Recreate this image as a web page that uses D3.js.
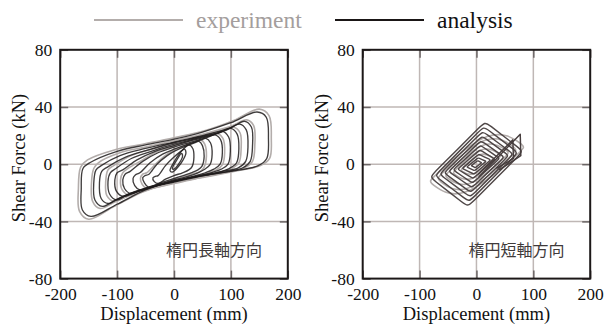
<!DOCTYPE html>
<html>
<head>
<meta charset="utf-8">
<script src="https://cdn.jsdelivr.net/npm/d3@7"></script>
<style>
  html, body { margin: 0; padding: 0; background: #ffffff; }
  svg { display: block; }
</style>
</head>
<body>
<svg id="chart" width="604" height="327"></svg>
<script>
// ---- axis ticks and labels ----
const xTicks = [-200, -100, 0, 100, 200];
const yTicks = [-80, -40, 0, 40, 80];
const xTitle = "Displacement (mm)";
const yTitle = "Shear Force (kN)";
const panelTitles = ["楕円長軸方向", "楕円短軸方向"];
const legendNames = ["experiment", "analysis"];

// ---- long-axis direction: hysteresis loops, [displacement mm, force kN] ----
const longAnalysis = [
  [[-148,1],[-100,9],[-50,13.5],[0,17.5],[50,22.5],[100,29],[146,36.5],[162,33],[166,18],[163,4],[148,-1],[100,-5],[50,-8],[0,-11.5],[-50,-18],[-100,-28],[-146,-36.5],[-161,-32],[-163,-17],[-160,-3]],
  [[-128,-1],[-95,6],[-50,11],[0,15.5],[50,20],[100,25.5],[124,30],[136,26],[138,13],[134,2],[121,-2.5],[95,-5],[50,-8],[0,-12],[-50,-17],[-100,-24.5],[-126,-29.5],[-139,-25],[-141,-13],[-137,-4]],
  [[-117,-2],[-85,5],[-45,10],[0,15],[45,19],[90,23.5],[115,28],[127,24],[130,12],[126,2],[113,-2.5],[85,-5],[45,-8],[0,-12],[-45,-16],[-90,-22.5],[-116,-27.5],[-128,-24],[-131,-13],[-127,-5]],
  [[-102,-3],[-75,4],[-40,9],[0,14],[40,18],[80,22],[100,25],[111,21],[114,11],[110,1],[97,-3],[75,-6],[40,-9],[0,-12.5],[-40,-16],[-80,-21],[-101,-25],[-113,-21],[-116,-12],[-112,-6]],
  [[-90,-4],[-65,3],[-33,9],[0,13],[35,17],[70,20.5],[85,23],[96,19],[99,9],[95,0],[83,-3.5],[65,-6],[33,-9],[0,-12],[-35,-15.5],[-70,-20],[-89,-22.5],[-101,-19],[-104,-11],[-100,-6]],
  [[-77,-5],[-55,2],[-28,8],[0,12],[30,15.5],[60,19],[72,20.5],[82,17],[85,8],[81,0],[70,-3.5],[55,-6],[28,-9],[0,-12],[-30,-15],[-60,-18.5],[-76,-20.5],[-87,-17],[-90,-11],[-86,-7]],
  [[-60,-6],[-42,1],[-20,7],[0,10.5],[25,14],[48,17],[56,18],[64,15],[67,7],[63,-0.5],[54,-3.5],[42,-6],[20,-9],[0,-11],[-25,-14],[-48,-17],[-60,-18],[-69,-15],[-72,-10],[-68,-7.5]],
  [[-44,-7],[-30,0],[-12,6],[0,9],[20,12.5],[36,15],[44,16],[50,13],[53,5.5],[49,-1.5],[42,-4],[30,-6],[12,-8.5],[0,-10],[-20,-12.5],[-36,-15],[-45,-16],[-52,-13],[-55,-9.5],[-51,-8]],
  [[-28,-8],[-15,-1],[0,5],[15,10],[26,13.5],[33,11],[35,5],[32,-1.5],[26,-4],[15,-6],[0,-8],[-15,-10.5],[-28,-13.5],[-35,-12],[-37,-9.5],[-33,-8.5]],
  [[-7,-4.5],[0,1.5],[9,7],[18,10.5],[21,8],[16,3],[7,-2],[-3,-5.5]],
  [[-3,-3],[5,3],[13,7.5],[15,5.5],[8,0],[0,-3.5]]
];
const longExperiment = [
  [[-152,3],[-105,10],[-55,14],[0,18.5],[55,23.5],[105,30.5],[150,38.5],[167,34],[171,18],[168,4],[152,-1],[105,-5],[55,-9],[0,-12.5],[-55,-19.5],[-105,-29.5],[-150,-38.5],[-166,-33],[-168,-17],[-164,-2]],
  [[-133,1],[-95,8],[-50,12],[0,16.5],[50,21],[100,26.5],[128,31],[140,27],[142,13],[138,2],[124,-2.5],[95,-5.5],[50,-9],[0,-13],[-50,-18],[-100,-25.5],[-130,-31],[-143,-26],[-145,-13],[-141,-3]],
  [[-106,-1],[-75,6],[-40,10.5],[0,15],[40,19],[80,23],[104,26],[116,22],[118,11],[114,1],[101,-3],[75,-6.5],[40,-10],[0,-13.5],[-40,-17],[-80,-22],[-105,-26],[-118,-22],[-120,-12],[-116,-4]],
  [[-81,-3],[-55,3],[-28,9],[0,13],[30,16.5],[60,20],[76,21.5],[86,18],[89,8],[85,-0.5],[74,-4],[55,-7],[28,-10],[0,-13],[-30,-16],[-60,-19.5],[-80,-21.5],[-91,-18],[-94,-11],[-90,-6]],
  [[-48,-6],[-30,1],[-12,7],[0,10],[20,13.5],[40,16],[47,17],[54,14],[57,5.5],[53,-2],[46,-5],[30,-7],[12,-9.5],[0,-11],[-20,-13.5],[-40,-16],[-48,-17],[-56,-14],[-59,-10],[-55,-7]]
];

// ---- short-axis direction: loop corners [left, top, right, bottom] ----
const shortAnalysis = [
  [[-82,-9],[15,29.7],[82,9],[-15,-29.7]],
  [[-73,-8],[13,26.3],[73,8],[-13,-26.3]],
  [[-65,-7],[11,23],[65,7],[-11,-23]],
  [[-57,-6],[10,19.7],[57,6],[-10,-19.7]],
  [[-49,-5],[8,16.4],[49,5],[-8,-16.4]],
  [[-41,-4],[7,13.2],[41,4],[-7,-13.2]],
  [[-33,-3.5],[6,10],[33,3.5],[-6,-10]],
  [[-25,-3],[4,7],[25,3],[-4,-7]],
  [[-17,-2],[3,4.5],[17,2],[-3,-4.5]],
  [[-9,-1],[2,2.5],[9,1],[-2,-2.5]]
];
// final excursions toward the positive side
const shortAnalysisTails = [
  [[4,-9],[77,21],[78,6],[40,-4]],
  [[3,-7],[64,17],[65,4],[35,-3]]
];
const shortExperiment = [
  [[-84,-12],[28,29],[86,12],[-28,-29]],
  [[-70,-10],[22,25],[72,10],[-22,-25]],
  [[-56,-8],[17,20],[58,8],[-17,-20]],
  [[-42,-6],[12,15],[44,6],[-12,-15]],
  [[-28,-4],[8,10],[30,4],[-8,-10]]
];

// ---- styles ----
const expColor = "#b3adab";
const anaColor = "#1f1b1b";
const anaColorShort = "#463d3d";
const gridColor = "#bfb7b5";
const serif = "'Liberation Serif', 'Times New Roman', serif";

const svg = d3.select("#chart");
svg.append("rect").attr("width", 604).attr("height", 327).attr("fill", "#ffffff");

// ---- legend ----
const legend = svg.append("g");
legend.append("line").attr("x1", 94).attr("x2", 183).attr("y1", 20).attr("y2", 20)
  .attr("stroke", expColor).attr("stroke-width", 2);
legend.append("text").attr("x", 196).attr("y", 28).text(legendNames[0])
  .attr("font-family", serif).attr("font-size", 23.5).attr("fill", "#a49e9d");
legend.append("line").attr("x1", 335).attr("x2", 424).attr("y1", 20).attr("y2", 20)
  .attr("stroke", "#1a1616").attr("stroke-width", 2);
legend.append("text").attr("x", 437).attr("y", 28).text(legendNames[1])
  .attr("font-family", serif).attr("font-size", 23.5).attr("fill", "#111");

const yRange = [278.6, 49.8];
const panels = [
  { xr: [60.2, 287.8], title: panelTitles[0], kind: "long" },
  { xr: [362.7, 590.2], title: panelTitles[1], kind: "short" }
];

panels.forEach(p => {
  const x = d3.scaleLinear().domain([-200, 200]).range(p.xr);
  const y = d3.scaleLinear().domain([-80, 80]).range(yRange);
  const g = svg.append("g");

  // grid
  const inner = g.append("g");
  xTicks.slice(1, -1).forEach(v => inner.append("line")
    .attr("x1", x(v)).attr("x2", x(v)).attr("y1", y(80)).attr("y2", y(-80))
    .attr("stroke", gridColor).attr("stroke-width", 1.5));
  yTicks.slice(1, -1).forEach(v => inner.append("line")
    .attr("x1", x(-200)).attr("x2", x(200)).attr("y1", y(v)).attr("y2", y(v))
    .attr("stroke", gridColor).attr("stroke-width", 1.5));

  const plot = g.append("g");
  if (p.kind === "long") {
    const loop = d3.line().x(d => x(d[0])).y(d => y(d[1]))
      .curve(d3.curveCatmullRomClosed.alpha(0.5));
    plot.selectAll("path.exp").data(longExperiment).join("path").attr("class", "exp")
      .attr("d", loop).attr("fill", "none").attr("stroke", expColor).attr("stroke-width", 1.6);
    plot.selectAll("path.ana").data(longAnalysis).join("path").attr("class", "ana")
      .attr("d", loop).attr("fill", "none").attr("stroke", anaColor)
      .attr("stroke-width", 1.35).attr("stroke-opacity", 0.85);
  } else {
    // doubled corners give straight edges with rounded corners
    const rounded = d3.line().x(d => x(d[0])).y(d => y(d[1])).curve(d3.curveBasisClosed);
    const dbl = pts => rounded(pts.flatMap(q => [q, q]));
    const single = pts => rounded(pts.flatMap((q, i) => i % 2 ? [q] : [q, q]));
    plot.selectAll("path.exp").data(shortExperiment).join("path").attr("class", "exp")
      .attr("d", single).attr("fill", "none").attr("stroke", expColor).attr("stroke-width", 1.6);
    plot.selectAll("path.ana").data(shortAnalysis).join("path").attr("class", "ana")
      .attr("d", dbl).attr("fill", "none").attr("stroke", anaColorShort)
      .attr("stroke-width", 1.45).attr("stroke-opacity", 0.95);
    const open = d3.line().x(d => x(d[0])).y(d => y(d[1])).curve(d3.curveLinear);
    plot.selectAll("path.tail").data(shortAnalysisTails).join("path").attr("class", "tail")
      .attr("d", open).attr("fill", "none").attr("stroke", anaColorShort)
      .attr("stroke-width", 1.45).attr("stroke-linejoin", "round");
  }

  // axes with inward ticks
  const fontSize = 17.5;
  const bottom = g.append("g").attr("transform", `translate(0,${y(-80)})`)
    .call(d3.axisBottom(x).tickValues(xTicks).tickSize(-8).tickPadding(9).tickFormat(d3.format("d")));
  const left = g.append("g").attr("transform", `translate(${x(-200)},0)`)
    .call(d3.axisLeft(y).tickValues(yTicks).tickSize(-8).tickPadding(8).tickFormat(d3.format("d")));
  const top = g.append("g").attr("transform", `translate(0,${y(80)})`)
    .call(d3.axisTop(x).tickValues(xTicks).tickSize(-8).tickFormat(""));
  const right = g.append("g").attr("transform", `translate(${x(200)},0)`)
    .call(d3.axisRight(y).tickValues(yTicks).tickSize(-8).tickFormat(""));
  [bottom, left, top, right].forEach(a => {
    a.select(".domain").remove();
    a.selectAll(".tick line").attr("stroke", "#6b6565").attr("stroke-width", 1.5);
    a.selectAll("text").attr("font-family", serif).attr("font-size", fontSize).attr("fill", "#111");
  });
  left.selectAll("text").text(d => d < 0 ? "-" + Math.abs(d) : d);
  bottom.selectAll("text").text(d => d < 0 ? "-" + Math.abs(d) : d);

  // frame
  g.append("rect").attr("x", x(-200)).attr("y", y(80))
    .attr("width", x(200) - x(-200)).attr("height", y(-80) - y(80))
    .attr("fill", "none").attr("stroke", "#1c1818").attr("stroke-width", 2);

  // direction label inside the plot
  g.append("text").attr("x", (x(-200) + x(200)) / 2 + 40).attr("y", 256)
    .attr("text-anchor", "middle").text(p.title)
    .attr("font-family", "'Noto Sans CJK JP', sans-serif").attr("font-size", 16)
    .attr("fill", "#403a3a");

  // axis titles
  g.append("text").attr("x", (x(-200) + x(200)) / 2).attr("y", 320)
    .attr("text-anchor", "middle").text(xTitle)
    .attr("font-family", serif).attr("font-size", 18.5).attr("fill", "#111");
  const cy = 158;
  const cx = x(-200) - 35;
  g.append("text").attr("transform", `translate(${cx},${cy}) rotate(-90)`)
    .attr("text-anchor", "middle").text(yTitle)
    .attr("font-family", serif).attr("font-size", 18.5).attr("fill", "#111");
});
</script>
</body>
</html>
